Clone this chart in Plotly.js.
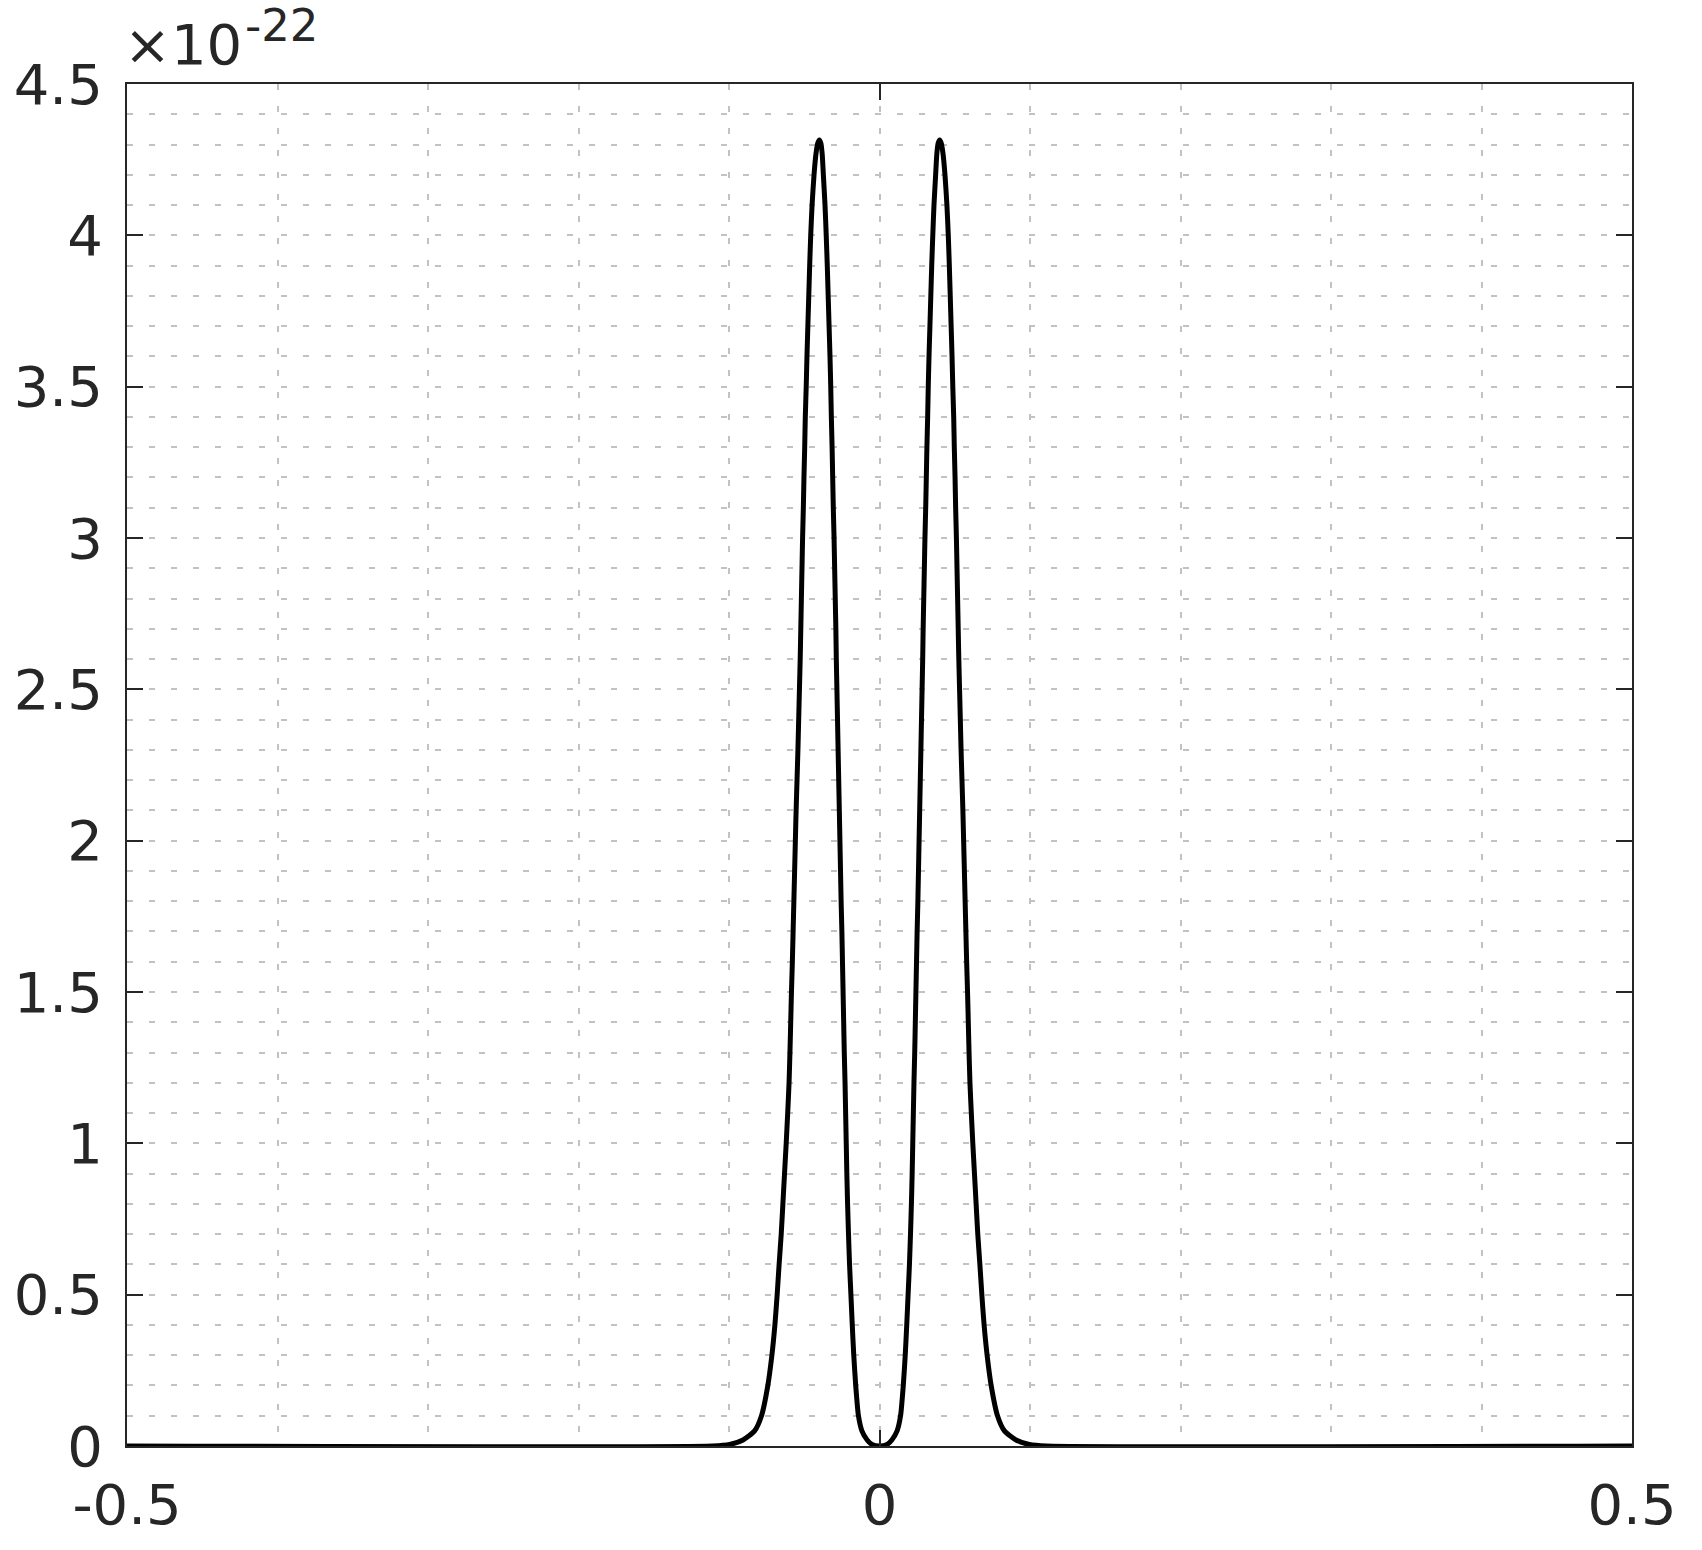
<!DOCTYPE html>
<html>
<head>
<meta charset="utf-8">
<script src="https://cdn.plot.ly/plotly-3.0.1.min.js"></script>
<style>
  html, body { margin: 0; padding: 0; background: #fff; }
</style>
</head>
<body>
<div id="chart"></div>
<script>
const divPlot = document.getElementById('chart');

// values, y in units of 1e-22
const leftPeakX = [-0.5, -0.111, -0.0996, -0.0907, -0.0830, -0.0784, -0.0742, -0.0715, -0.0695, -0.0680,
  -0.0667, -0.0653, -0.0642, -0.0631, -0.0620, -0.0610, -0.0601, -0.0595, -0.0590, -0.0585,
  -0.0579, -0.0574, -0.0569, -0.0564, -0.0559, -0.0554, -0.0548, -0.0542, -0.0537, -0.0532,
  -0.0527, -0.0523, -0.0519, -0.0515, -0.0511, -0.0506, -0.0502, -0.0497, -0.0493, -0.0487,
  -0.0482, -0.0476, -0.0470, -0.0464, -0.0457, -0.0448, -0.0435, -0.0422, -0.0410, -0.0400,
  -0.0390, -0.0381, -0.0373, -0.0362, -0.0354, -0.0347, -0.0341, -0.0335, -0.0329, -0.0324,
  -0.0320, -0.0315, -0.0311, -0.0307, -0.0302, -0.0298, -0.0294, -0.0290, -0.0287, -0.0283,
  -0.0279, -0.0275, -0.0271, -0.0267, -0.0263, -0.0259, -0.0255, -0.0250, -0.0246, -0.0242,
  -0.0238, -0.0234, -0.0229, -0.0225, -0.0221, -0.0217, -0.0212, -0.0206, -0.0199, -0.0190,
  -0.0181, -0.0171, -0.0158, -0.0140, -0.0117, -0.0082, -0.0050, 0];
const leftPeakY = [0, 0, 0.005, 0.02, 0.05, 0.1, 0.2, 0.3, 0.4, 0.5,
  0.6, 0.7, 0.8, 0.9, 1.0, 1.1, 1.2, 1.3, 1.4, 1.5,
  1.6, 1.7, 1.8, 1.9, 2.0, 2.1, 2.2, 2.3, 2.4, 2.5,
  2.6, 2.7, 2.8, 2.9, 3.0, 3.1, 3.2, 3.3, 3.4, 3.5,
  3.6, 3.7, 3.8, 3.9, 4.0, 4.1, 4.2, 4.27, 4.305, 4.315,
  4.305, 4.27, 4.2, 4.1, 4.0, 3.9, 3.8, 3.7, 3.6, 3.5,
  3.4, 3.3, 3.2, 3.1, 3.0, 2.9, 2.8, 2.7, 2.6, 2.5,
  2.4, 2.3, 2.2, 2.1, 2.0, 1.9, 1.8, 1.7, 1.6, 1.5,
  1.4, 1.3, 1.2, 1.1, 1.0, 0.9, 0.8, 0.7, 0.6, 0.5,
  0.4, 0.3, 0.2, 0.1, 0.05, 0.02, 0.005, 0];

const rightPeakX = [0.0050, 0.0082, 0.0117, 0.0140, 0.0158, 0.0171, 0.0181, 0.0190, 0.0199, 0.0206,
  0.0212, 0.0217, 0.0221, 0.0225, 0.0229, 0.0234, 0.0238, 0.0242, 0.0246, 0.0250,
  0.0255, 0.0259, 0.0263, 0.0267, 0.0271, 0.0275, 0.0279, 0.0283, 0.0287, 0.0290,
  0.0294, 0.0298, 0.0302, 0.0307, 0.0311, 0.0315, 0.0320, 0.0324, 0.0329, 0.0335,
  0.0341, 0.0347, 0.0354, 0.0362, 0.0373, 0.0381, 0.0390, 0.0400, 0.0410, 0.0422,
  0.0435, 0.0448, 0.0457, 0.0464, 0.0470, 0.0476, 0.0482, 0.0487, 0.0493, 0.0497,
  0.0502, 0.0506, 0.0511, 0.0515, 0.0519, 0.0523, 0.0527, 0.0532, 0.0537, 0.0542,
  0.0548, 0.0554, 0.0559, 0.0564, 0.0569, 0.0574, 0.0579, 0.0585, 0.0590, 0.0595,
  0.0601, 0.0610, 0.0620, 0.0631, 0.0642, 0.0653, 0.0667, 0.0680, 0.0695, 0.0715,
  0.0742, 0.0784, 0.0830, 0.0907, 0.0996, 0.111, 0.5];
const rightPeakY = [0.005, 0.02, 0.05, 0.1, 0.2, 0.3, 0.4, 0.5, 0.6, 0.7,
  0.8, 0.9, 1.0, 1.1, 1.2, 1.3, 1.4, 1.5, 1.6, 1.7,
  1.8, 1.9, 2.0, 2.1, 2.2, 2.3, 2.4, 2.5, 2.6, 2.7,
  2.8, 2.9, 3.0, 3.1, 3.2, 3.3, 3.4, 3.5, 3.6, 3.7,
  3.8, 3.9, 4.0, 4.1, 4.2, 4.27, 4.305, 4.315, 4.305, 4.27,
  4.2, 4.1, 4.0, 3.9, 3.8, 3.7, 3.6, 3.5, 3.4, 3.3,
  3.2, 3.1, 3.0, 2.9, 2.8, 2.7, 2.6, 2.5, 2.4, 2.3,
  2.2, 2.1, 2.0, 1.9, 1.8, 1.7, 1.6, 1.5, 1.4, 1.3,
  1.2, 1.1, 1.0, 0.9, 0.8, 0.7, 0.6, 0.5, 0.4, 0.3,
  0.2, 0.1, 0.05, 0.02, 0.005, 0, 0];

const xTickVals = [-0.5, 0, 0.5];
const xTickText = ['-0.5', '0', '0.5'];
const yTickVals = [0, 0.5, 1, 1.5, 2, 2.5, 3, 3.5, 4, 4.5];
const yTickText = ['0', '0.5', '1', '1.5', '2', '2.5', '3', '3.5', '4', '4.5'];

const axisColor = '#262626';
const gridColor = '#c2c2c2';
const gridDash = '6px,16px';

const curve = {
  x: leftPeakX.concat(rightPeakX),
  y: leftPeakY.concat(rightPeakY),
  type: 'scatter',
  mode: 'lines',
  line: { color: '#000000', width: 5, shape: 'spline', smoothing: 0.6 },
  hoverinfo: 'skip',
};

const axisCommon = {
  showline: true,
  linecolor: axisColor,
  linewidth: 2,
  mirror: 'ticks',
  ticks: 'inside',
  ticklen: 16,
  tickwidth: 2,
  tickcolor: axisColor,
  zeroline: false,
  showgrid: true,
  gridcolor: gridColor,
  gridwidth: 2,
  griddash: gridDash,
  tickfont: { family: 'DejaVu Sans', size: 56, color: axisColor },
};

const layout = {
  width: 1702,
  height: 1550,
  autosize: false,
  paper_bgcolor: '#ffffff',
  plot_bgcolor: '#ffffff',
  showlegend: false,
  margin: { l: 127, r: 70, t: 84, b: 104, pad: 0 },

  xaxis: Object.assign({}, axisCommon, {
    range: [-0.5, 0.5],
    tickmode: 'array',
    tickvals: xTickVals,
    ticktext: xTickText,
    ticklabelstandoff: 9,
    minor: {
      dtick: 0.1,
      tick0: 0,
      ticks: '',
      showgrid: true,
      gridcolor: gridColor,
      gridwidth: 2,
      griddash: gridDash,
    },
  }),

  yaxis: Object.assign({}, axisCommon, {
    range: [0, 4.5],
    tickmode: 'array',
    tickvals: yTickVals,
    ticktext: yTickText,
    ticklabelstandoff: 11,
    minor: {
      dtick: 0.1,
      tick0: 0,
      ticks: '',
      showgrid: true,
      gridcolor: gridColor,
      gridwidth: 2,
      griddash: gridDash,
    },
  }),

  // exponent label of the y axis
  annotations: [
    {
      text: '×10',
      xref: 'paper', yref: 'paper',
      x: -0.003, y: 1.029,
      xanchor: 'left', yanchor: 'middle',
      showarrow: false,
      font: { family: 'DejaVu Sans', size: 56, color: axisColor },
    },
    {
      text: '-22',
      xref: 'paper', yref: 'paper',
      x: 0.077, y: 1.043,
      xanchor: 'left', yanchor: 'middle',
      showarrow: false,
      font: { family: 'DejaVu Sans', size: 45, color: axisColor },
    },
  ],
};

const config = { displayModeBar: false, staticPlot: true };

Plotly.newPlot(divPlot, [curve], layout, config);
</script>
</body>
</html>
